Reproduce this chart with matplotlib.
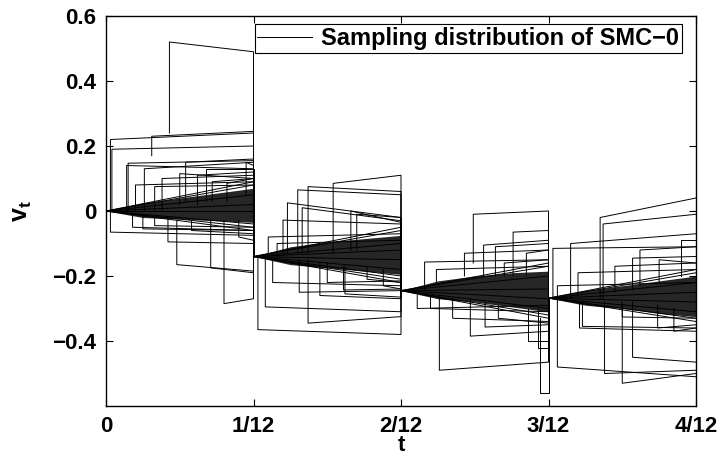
import numpy as np
import matplotlib.pyplot as plt

plt.rcParams['font.family'] = ['Liberation Sans', 'DejaVu Sans']
plt.rcParams['font.weight'] = 'bold'
plt.rcParams['mathtext.fontset'] = 'custom'
plt.rcParams['mathtext.bf'] = 'Liberation Sans:bold'
plt.rcParams['mathtext.rm'] = 'Liberation Sans:bold'

# time in months (1 unit = 1/12), one segment per month
seg_starts = [0.0, -0.14, -0.245, -0.268]
core_u = [0.0, 0.25, 0.5, 0.75, 1.0]
core_upper = [[0.0, 0.025, 0.04, 0.055, 0.07],
              [-0.14, -0.11, -0.095, -0.085, -0.075],
              [-0.245, -0.215, -0.2, -0.19, -0.185],
              [-0.268, -0.245, -0.23, -0.215, -0.2]]
core_lower = [[0.0, -0.02, -0.025, -0.03, -0.035],
              [-0.14, -0.165, -0.175, -0.185, -0.195],
              [-0.245, -0.27, -0.28, -0.295, -0.31],
              [-0.268, -0.29, -0.3, -0.315, -0.325]]
fan_ends = [[-0.06, -0.05, -0.04, 0.0, 0.02, 0.05, 0.08, 0.09],
            [-0.22, -0.21, -0.2, -0.18, -0.15, -0.12, -0.1, -0.06, -0.05],
            [-0.33, -0.32, -0.3, -0.27, -0.24, -0.2, -0.17, -0.16],
            [-0.34, -0.33, -0.31, -0.28, -0.25, -0.22, -0.19, -0.18]]

# resampled particles: (jump time, value before jump, value after jump, value at segment end)
seg1_paths = [(0.03, 0.0, 0.22, 0.24), (0.04, 0.0, 0.19, 0.20), (0.31, 0.17, 0.23, 0.245),
              (0.43, 0.24, 0.52, 0.49), (0.14, 0.0, 0.14, 0.13), (0.15, 0.0, 0.147, 0.155),
              (0.26, 0.0, 0.13, 0.15), (0.54, 0.03, 0.15, 0.16), (0.38, 0.0, 0.10, 0.11),
              (0.50, 0.02, 0.115, 0.10), (0.62, 0.02, 0.11, 0.12), (0.68, 0.03, 0.13, 0.13),
              (0.95, 0.05, 0.15, 0.14), (0.20, 0.0, 0.08, 0.09), (0.33, 0.0, 0.075, 0.08),
              (0.72, 0.03, 0.09, 0.10), (0.82, 0.03, 0.085, 0.10), (0.03, 0.0, -0.065, -0.075),
              (0.18, -0.01, -0.05, -0.06), (0.25, -0.01, -0.055, -0.06), (0.33, -0.02, -0.045, -0.05),
              (0.42, -0.02, -0.095, -0.10), (0.48, -0.03, -0.165, -0.185), (0.71, -0.03, -0.175, -0.19),
              (0.80, -0.03, -0.285, -0.27), (0.58, -0.03, -0.06, -0.07), (0.90, -0.03, -0.08, -0.09)]
seg2_paths = [(1.54, -0.13, 0.085, 0.11), (1.30, -0.13, 0.065, 0.05), (1.37, -0.13, 0.075, 0.06),
              (1.23, -0.13, 0.025, -0.02), (1.33, -0.13, 0.01, -0.03), (1.20, -0.13, -0.028, -0.04),
              (1.70, -0.12, -0.01, -0.02), (1.66, -0.12, 0.0, -0.035), (1.10, -0.14, -0.08, -0.07),
              (1.16, -0.14, -0.10, -0.09), (1.03, -0.14, -0.365, -0.38), (1.37, -0.15, -0.345, -0.325),
              (1.08, -0.14, -0.295, -0.31), (1.45, -0.16, -0.26, -0.27), (1.62, -0.17, -0.255, -0.265),
              (1.13, -0.15, -0.22, -0.23), (1.50, -0.16, -0.22, -0.215), (1.61, -0.17, -0.243, -0.24),
              (1.77, -0.17, -0.21, -0.22), (1.31, -0.15, -0.25, -0.245), (1.88, -0.18, -0.23, -0.24)]
seg3_paths = [(2.49, -0.16, -0.01, 0.0), (2.16, -0.245, -0.157, -0.15), (2.76, -0.20, -0.065, -0.06),
              (2.56, -0.20, -0.105, -0.09), (2.64, -0.20, -0.11, -0.10), (2.43, -0.20, -0.13, -0.12),
              (2.24, -0.22, -0.18, -0.17), (2.85, -0.20, -0.13, -0.12), (2.70, -0.20, -0.16, -0.15),
              (2.26, -0.26, -0.49, -0.465), (2.94, -0.33, -0.56, -0.56), (2.47, -0.27, -0.385, -0.37),
              (2.20, -0.26, -0.30, -0.31), (2.57, -0.28, -0.357, -0.35), (2.93, -0.30, -0.42, -0.42),
              (2.86, -0.30, -0.40, -0.40), (2.35, -0.27, -0.33, -0.34), (2.66, -0.29, -0.33, -0.345),
              (2.11, -0.26, -0.30, -0.29)]
seg4_paths = [(3.35, -0.27, -0.02, 0.04), (3.37, -0.27, -0.04, -0.01), (3.15, -0.27, -0.10, -0.07),
              (3.03, -0.27, -0.115, -0.11), (3.57, -0.24, -0.145, -0.14), (3.20, -0.26, -0.19, -0.18),
              (3.90, -0.20, -0.09, -0.09), (3.06, -0.27, -0.23, -0.22), (3.45, -0.25, -0.17, -0.16),
              (3.75, -0.22, -0.15, -0.16), (3.62, -0.23, -0.12, -0.11), (3.06, -0.27, -0.48, -0.51),
              (3.50, -0.28, -0.53, -0.50), (3.57, -0.28, -0.45, -0.465), (3.38, -0.28, -0.50, -0.49),
              (3.23, -0.28, -0.355, -0.36), (3.74, -0.29, -0.36, -0.35), (3.21, -0.28, -0.36, -0.37),
              (3.50, -0.29, -0.326, -0.33), (3.85, -0.30, -0.37, -0.36)]
all_paths = [seg1_paths, seg2_paths, seg3_paths, seg4_paths]

xtick_labels = ['0', '1/12', '2/12', '3/12', '4/12']
yticks = [-0.4, -0.2, 0, 0.2, 0.4, 0.6]
ytick_labels = ['\u22120.4', '\u22120.2', '0', '0.2', '0.4', '0.6']

fig = plt.figure(figsize=(7.23, 4.57), dpi=100)
ax = fig.add_axes([106 / 723, 1 - 406 / 457, 590 / 723, 390 / 457])

lw = 0.7
for k in range(4):
    s = k
    e = k + 1
    y0 = seg_starts[k]
    nxt = seg_starts[k + 1] if k < 3 else None
    xs = (s + np.array(core_u)) / 12
    ax.fill_between(xs, core_lower[k], core_upper[k], color='black', alpha=0.85, lw=0)
    for ye in fan_ends[k]:
        ax.plot([s / 12, e / 12], [y0, ye], color='black', lw=lw)
    for (uj, vf, vt, ve) in all_paths[k]:
        px = [uj, uj, e]
        py = [vf, vt, ve]
        if nxt is not None:
            px.append(e)
            py.append(nxt)
        ax.plot(np.array(px) / 12, py, color='black', lw=lw)

ax.plot([], [], color='black', lw=lw, label='Sampling distribution of SMC\u22120')

ax.set_xlim(0, 4 / 12)
ax.set_ylim(-0.6, 0.6)
ax.set_xticks(np.arange(5) / 12)
ax.set_xticklabels(xtick_labels)
ax.set_yticks(yticks)
ax.set_yticklabels(ytick_labels)
ax.tick_params(direction='in', top=True, right=True, length=5, width=0.8,
               labelsize=16, pad=7)
for sp in ax.spines.values():
    sp.set_linewidth(1.0)
ax.set_xlabel('t', fontsize=16, fontweight='bold', labelpad=-1)
ax.set_ylabel(r'$\mathbf{v_t}$', fontsize=18, labelpad=13)

leg = ax.legend(loc='upper right', fontsize=17, fancybox=False, framealpha=1,
                edgecolor='black', bbox_to_anchor=(682 / 723, 1 - 24 / 457),
                bbox_transform=fig.transFigure, borderaxespad=0, handlelength=2.3,
                borderpad=0.12, handletextpad=0.4)
leg.get_frame().set_linewidth(0.8)

fig.savefig('out.png', dpi=100)
